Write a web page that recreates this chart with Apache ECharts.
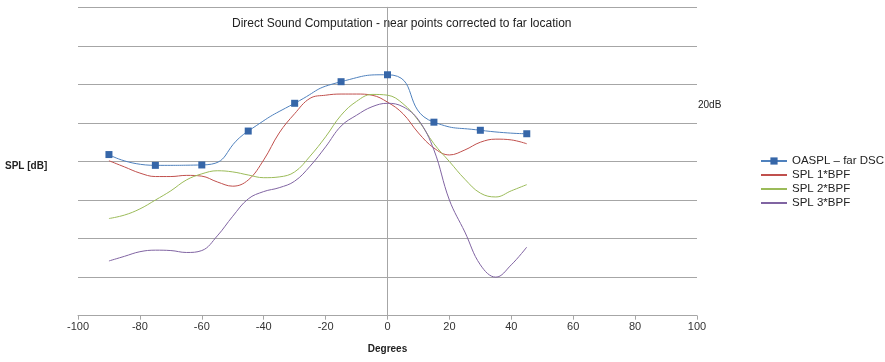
<!DOCTYPE html>
<html>
<head>
<meta charset="utf-8">
<script src="https://cdn.jsdelivr.net/npm/echarts@6/dist/echarts.min.js"></script>
<style>
  html, body { margin: 0; padding: 0; background: #fff; }
  #chart { width: 885px; height: 362px; }
</style>
</head>
<body>
<div id="chart"></div>
<script>
// ---- data (y in dB on an arbitrary offset) ----
const oasplDeg = [-90, -75, -60, -45, -30, -15, 0, 15, 30, 45];
const oaspl = [20.9, 19.5, 19.55, 23.95, 27.55, 30.35, 31.25, 25.1, 24.05, 23.6];

const fineDeg = [-90, -85, -80, -75, -70, -65, -60, -55, -50, -45, -40, -35, -30, -25, -20,
  -15, -10, -5, 0, 5, 10, 15, 20, 25, 30, 35, 40, 45];
const spl1 = [20.1, 19.3, 18.5, 18.05, 18.05, 18.2, 18.1, 17.35, 16.8, 17.6, 20.2, 23.7, 26.2, 28.2, 28.6,
  28.75, 28.75, 28.6, 27.7, 26.2, 23.7, 21.75, 20.85, 21.5, 22.5, 22.9, 22.8, 22.3];
const spl2 = [12.6, 13.05, 13.85, 15.0, 16.2, 17.6, 18.4, 18.8, 18.65, 18.25, 17.9, 18.0, 18.65, 20.7, 23.2,
  26.0, 27.8, 28.7, 28.6, 27.5, 25.3, 22.3, 20.0, 17.7, 15.9, 15.4, 16.2, 17.0];
const spl3 = [7.1, 7.7, 8.3, 8.5, 8.45, 8.2, 8.45, 10.35, 12.9, 15.15, 16.1, 16.6, 17.45, 19.4, 21.9,
  24.6, 26.0, 27.1, 27.55, 27.1, 25.4, 21.5, 15.0, 10.85, 6.6, 5.0, 6.6, 8.9];

const xTicks = { min: -100, max: 100, interval: 20 };
const yTicks = { min: 0, max: 40, interval: 5 };

const pairs = (xs, ys) => xs.map((x, i) => [x, ys[i]]);

const chart = echarts.init(document.getElementById("chart"));
const font = "Liberation Sans";
const grayLine = "#a6a6a6";

// legend entry with only a line (hide the symbol)
const lineOnly = (name) => ({ name: name, itemStyle: { opacity: 0 } });

chart.setOption({
  animation: false,
  textStyle: { fontFamily: font },
  grid: { left: 78, right: 188, top: 7.3, bottom: 46.3 },
  xAxis: {
    type: "value",
    min: xTicks.min, max: xTicks.max, interval: xTicks.interval,
    name: "Degrees",
    nameLocation: "middle",
    nameGap: 29,
    nameTextStyle: { fontFamily: font, fontSize: 10, fontWeight: "bold", color: "#222" },
    axisLine: { onZero: false, lineStyle: { color: grayLine, width: 1 } },
    axisTick: { show: true, length: 4, lineStyle: { color: grayLine } },
    axisLabel: { fontFamily: font, fontSize: 11, color: "#333", margin: 6 },
    splitLine: { show: false }
  },
  yAxis: {
    type: "value",
    min: yTicks.min, max: yTicks.max, interval: yTicks.interval,
    axisLine: { show: true, onZero: true, lineStyle: { color: grayLine, width: 1 } },
    axisTick: { show: false },
    axisLabel: { show: false },
    splitLine: { show: true, lineStyle: { color: grayLine, width: 1 } }
  },
  legend: {
    orient: "vertical",
    left: 755,
    top: 150,
    itemWidth: 26,
    itemHeight: 9,
    itemGap: 2,
    textStyle: { fontFamily: font, fontSize: 11.5, color: "#222", lineHeight: 11.5 },
    data: [
      { name: "OASPL – far DSC" },
      lineOnly("SPL 1*BPF"),
      lineOnly("SPL 2*BPF"),
      lineOnly("SPL 3*BPF")
    ]
  },
  graphic: [
    {
      type: "text", left: 232, top: 18, z: 0,
      style: { text: "Direct Sound Computation - near points corrected to far location",
        fontFamily: font, fontSize: 12, fill: "#222" }
    },
    {
      type: "text", left: 5, top: 161,
      style: { text: "SPL [dB]", fontFamily: font, fontSize: 10, fontWeight: "bold", fill: "#222" }
    },
    {
      type: "text", left: 698, top: 100,
      style: { text: "20dB", fontFamily: font, fontSize: 10, fill: "#222" }
    }
  ],
  series: [
    {
      name: "SPL 1*BPF",
      type: "line",
      data: pairs(fineDeg, spl1),
      smooth: 0.4,
      symbol: "none",
      lineStyle: { color: "#C0504D", width: 1 },
      itemStyle: { color: "#C0504D" }
    },
    {
      name: "SPL 2*BPF",
      type: "line",
      data: pairs(fineDeg, spl2),
      smooth: 0.4,
      symbol: "none",
      lineStyle: { color: "#9BBB59", width: 1 },
      itemStyle: { color: "#9BBB59" }
    },
    {
      name: "SPL 3*BPF",
      type: "line",
      data: pairs(fineDeg, spl3),
      smooth: 0.4,
      symbol: "none",
      lineStyle: { color: "#8064A2", width: 1 },
      itemStyle: { color: "#8064A2" }
    },
    {
      name: "OASPL – far DSC",
      type: "line",
      data: pairs(oasplDeg, oaspl),
      smooth: 0.6,
      symbol: "rect",
      symbolSize: 7,
      z: 5,
      lineStyle: { color: "#4F81BD", width: 1 },
      itemStyle: { color: "#3666A8" }
    }
  ]
});
</script>
</body>
</html>
